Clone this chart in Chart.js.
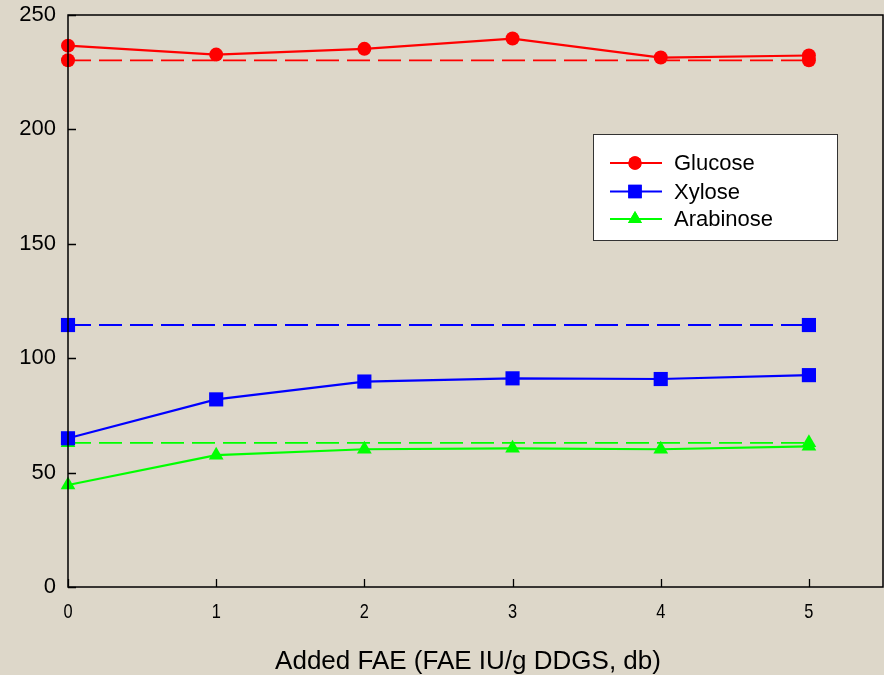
<!DOCTYPE html>
<html>
<head>
<meta charset="utf-8">
<script src="https://cdn.jsdelivr.net/npm/chart.js@4.4.1/dist/chart.umd.min.js"></script>
<style>
  html, body { margin: 0; padding: 0; background: #ddd7c9; }
  #wrap { width: 884px; height: 675px; }
</style>
</head>
<body>
<div id="wrap"><canvas id="c" width="884" height="675"></canvas></div>
<script>
// Added FAE dose (IU/g DDGS, db)
const doses = [0, 1, 2, 3, 4, 5];
// Sugar yields with FAE added
const glucose   = [236.6, 232.7, 235.2, 239.7, 231.4, 232.3];
const xylose    = [65.0, 82.0, 89.8, 91.2, 90.9, 92.6];
const arabinose = [44.6, 57.6, 60.2, 60.6, 60.2, 61.5];
// Reference levels (dashed lines)
const refDoses = [0, 5];
const glucoseRef   = [230.2, 230.2];
const xyloseRef    = [114.5, 114.5];
const arabinoseRef = [63.0, 63.0];
const yTicks = [0, 50, 100, 150, 200, 250];
const xTicks = [0, 1, 2, 3, 4, 5];
const seriesNames = ['Glucose', 'Xylose', 'Arabinose'];
const xTitle = 'Added FAE (FAE IU/g DDGS, db)';

const RED = '#ff0000', BLUE = '#0000ff', GREEN = '#00ff00';
const FONT = '"Liberation Sans", Arial, sans-serif';

const pts = (xs, ys) => xs.map((x, i) => ({ x: x, y: ys[i] }));

function solid(label, data, color, style, radius) {
  return { label, data: pts(doses, data), borderColor: color, backgroundColor: color,
    borderWidth: 2.2, pointStyle: style, pointRadius: radius, pointHoverRadius: radius,
    pointBorderWidth: 0, tension: 0, clip: false };
}
function dashed(data, color, style, radius) {
  return { label: '', data: pts(refDoses, data), borderColor: color, backgroundColor: color,
    borderWidth: 1.8, borderDash: [23, 8], pointStyle: style, pointRadius: radius,
    pointHoverRadius: radius, pointBorderWidth: 0, tension: 0, clip: false };
}

// Frame, inward ticks, x tick labels, axis title and the boxed legend
const decor = {
  id: 'decor',
  afterDatasetsDraw(chart) {
    const { ctx, chartArea: a, scales: { x, y } } = chart;
    ctx.save();
    ctx.strokeStyle = '#000';
    ctx.lineWidth = 1.5;
    ctx.strokeRect(a.left, a.top, a.right - a.left, a.bottom - a.top);
    ctx.lineWidth = 1.3;
    ctx.beginPath();
    yTicks.forEach(v => {
      const py = Math.round(y.getPixelForValue(v)) + 0.5;
      ctx.moveTo(a.left, py); ctx.lineTo(a.left + 8, py);
    });
    xTicks.forEach(v => {
      const px = Math.round(x.getPixelForValue(v)) + 0.5;
      ctx.moveTo(px, a.bottom); ctx.lineTo(px, a.bottom - 8);
    });
    ctx.stroke();

    // x tick labels, horizontally condensed
    ctx.fillStyle = '#000';
    ctx.font = '21px ' + FONT;
    ctx.textAlign = 'center';
    ctx.textBaseline = 'middle';
    xTicks.forEach(v => {
      ctx.save();
      ctx.translate(x.getPixelForValue(v), a.bottom + 25);
      ctx.scale(0.78, 1);
      ctx.fillText(String(v), 0, 0);
      ctx.restore();
    });

    // x axis title
    ctx.font = '26px ' + FONT;
    ctx.fillText(xTitle, 468, 662);

    // legend box
    const bx = 593.5, by = 134.5, bw = 244, bh = 106;
    ctx.fillStyle = '#ffffff';
    ctx.fillRect(bx, by, bw, bh);
    ctx.strokeStyle = '#333';
    ctx.lineWidth = 1;
    ctx.strokeRect(bx, by, bw, bh);
    const sets = chart.data.datasets.slice(0, 3);
    const rowsY = [163, 191.5, 219];
    ctx.font = '22px ' + FONT;
    ctx.textAlign = 'left';
    ctx.textBaseline = 'middle';
    sets.forEach((ds, i) => {
      const yy = rowsY[i];
      ctx.strokeStyle = ds.borderColor;
      ctx.lineWidth = 2.2;
      ctx.beginPath(); ctx.moveTo(610, yy); ctx.lineTo(662, yy); ctx.stroke();
      ctx.fillStyle = ds.backgroundColor;
      Chart.helpers.drawPoint(ctx, { pointStyle: ds.pointStyle, radius: ds.pointRadius * 0.95, borderWidth: 0 }, 635, yy);
      ctx.fill();
      ctx.fillStyle = '#000';
      ctx.fillText(seriesNames[i], 674, yy + 1);
    });
    ctx.restore();
  }
};

new Chart(document.getElementById('c'), {
  type: 'line',
  data: {
    datasets: [
      solid(seriesNames[0], glucose, RED, 'circle', 7),
      solid(seriesNames[1], xylose, BLUE, 'rect', 10),
      solid(seriesNames[2], arabinose, GREEN, 'triangle', 8.5),
      dashed(glucoseRef, RED, 'circle', 7),
      dashed(xyloseRef, BLUE, 'rect', 10),
      dashed(arabinoseRef, GREEN, 'triangle', 8.5)
    ]
  },
  options: {
    responsive: false,
    animation: false,
    devicePixelRatio: 1,
    layout: { autoPadding: false, padding: { top: 15, right: 1, left: 0, bottom: 0 } },
    plugins: { legend: { display: false }, tooltip: { enabled: false } },
    scales: {
      x: {
        type: 'linear', min: 0, max: 5.5,
        afterBuildTicks: s => { s.ticks = xTicks.map(v => ({ value: v })); },
        afterFit: s => { s.height = 88; s.paddingLeft = 0; s.paddingRight = 0; },
        grid: { display: false, drawTicks: false },
        border: { display: false },
        ticks: { display: false },
        title: { display: false }
      },
      y: {
        type: 'linear', min: 0, max: 250,
        afterBuildTicks: s => { s.ticks = yTicks.map(v => ({ value: v })); },
        afterFit: s => { s.width = 68; s.paddingTop = 0; s.paddingBottom = 0; },
        grid: { display: false, drawTicks: false },
        border: { display: false },
        ticks: { color: '#000', font: { family: FONT, size: 22 }, padding: 12 }
      }
    }
  },
  plugins: [decor]
});
</script>
</body>
</html>
